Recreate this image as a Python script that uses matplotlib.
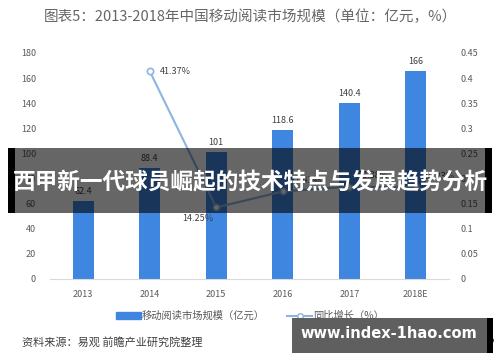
import matplotlib
matplotlib.use("Agg")
import matplotlib.pyplot as plt
from matplotlib.patches import Rectangle
from matplotlib.lines import Line2D
from matplotlib.patches import Patch

plt.rcParams['font.family'] = ['Noto Sans CJK SC', 'DejaVu Sans']

categories = ["2013", "2014", "2015", "2016", "2017", "2018E"]
market_size = [62.4, 88.4, 101, 118.6, 140.4, 166]
growth_x = ["2014", "2015", "2016", "2017", "2018E"]
growth = [0.4137, 0.1425, 0.1743, 0.1838, 0.1823]
growth_labels = ["41.37%", "14.25%", "17.43%", "18.38%", "18.23%"]
left_ticks = [0, 20, 40, 60, 80, 100, 120, 140, 160, 180]
right_ticks = [0, 0.05, 0.1, 0.15, 0.2, 0.25, 0.3, 0.35, 0.4, 0.45]
right_tick_labels = ["0", "0.05", "0.1", "0.15", "0.2", "0.25", "0.3", "0.35", "0.4", "0.45"]

W, H = 500, 362
fig = plt.figure(figsize=(5, 3.62), dpi=100)
fig.patch.set_facecolor("white")

ax = fig.add_axes([50/W, 1-279/H, 399/W, 226/H])
x = list(range(len(categories)))
bar_color = "#3F86E0"
ax.bar(x, market_size, width=0.32, color=bar_color, zorder=2)
for xi, v in zip(x, market_size):
    ax.text(xi, v + 4, f"{v:g}", ha="center", va="bottom", fontsize=6.5, color="#404040")
ax.set_xlim(-0.5, len(categories) - 0.5)
ax.set_ylim(0, 180)
ax.set_yticks(left_ticks)
ax.set_yticklabels([str(t) for t in left_ticks], fontsize=6.5, color="#595959")
ax.set_xticks(x)
ax.set_xticklabels(categories, fontsize=6.5, color="#595959")
ax.tick_params(length=0, pad=8)
ax.tick_params(axis="y", pad=10)
for s in ["top", "right", "left"]:
    ax.spines[s].set_visible(False)
ax.spines["bottom"].set_color("#D9D9D9")

ax2 = ax.twinx()
gx = [categories.index(c) for c in growth_x]
line_color = "#8DB4E2"
ax2.plot(gx, growth, color=line_color, lw=1.5, marker="o", ms=4.5,
         mfc="white", mec=line_color, mew=1.2, zorder=3)
ax2.set_ylim(0, 0.45)
ax2.set_yticks(right_ticks)
ax2.set_yticklabels(right_tick_labels, fontsize=6.5, color="#595959")
ax2.tick_params(length=0, pad=8)
for s in ["top", "right", "left", "bottom"]:
    ax2.spines[s].set_visible(False)
offsets = [(0.15, 0.0, "left"), (-0.05, -0.022, "right"), (0.12, 0.022, "left"),
           (0.12, 0.022, "left"), (0.12, 0.022, "left")]
for xi, v, lab, (dx, dy, ha) in zip(gx, growth, growth_labels, offsets):
    ax2.text(xi + dx, v + dy, lab, ha=ha, va="center", fontsize=6.5, color="#404040")

# Title
fig.text(250/W, 1-17/H, "图表5：2013-2018年中国移动阅读市场规模（单位：亿元，%）",
         ha="center", va="center", fontsize=10.5, color="#666666")

# Legend
handles = [Patch(color=bar_color, label="移动阅读市场规模（亿元）"),
           Line2D([0], [0], color=line_color, lw=1.5, marker="o", ms=4, mfc="white",
                  mec=line_color, label="同比增长（%）")]
fig.legend(handles=handles, loc="center", bbox_to_anchor=(250/W, 1-316/H), ncol=2,
           frameon=False, fontsize=7.4, handlelength=2.4, handleheight=0.6,
           columnspacing=2.2, handletextpad=0.1, labelcolor="#595959")

# Source
fig.text(22/W, 1-342/H, "资料来源：易观 前瞻产业研究院整理", ha="left", va="center",
         fontsize=8, color="#404040", style="italic")
fig.text(495/W, 1-342/H, "@前瞻经济学人APP", ha="right", va="center",
         fontsize=7.5, color="#404040")

# Overlay banner
fig.patches.append(Rectangle((8/W, 1-213/H), 484/W, 65/H, transform=fig.transFigure,
                             facecolor="black", alpha=0.6, zorder=10))
fig.patches.append(Rectangle((8/W, 1-213/H), 7/W, 65/H, transform=fig.transFigure,
                             facecolor="black", alpha=1.0, zorder=10))
fig.patches.append(Rectangle((485/W, 1-213/H), 7/W, 65/H, transform=fig.transFigure,
                             facecolor="black", alpha=1.0, zorder=10))
fig.text(250/W, 1-183/H, "西甲新一代球员崛起的技术特点与发展趋势分析", ha="center",
         va="center", fontsize=16.3, color="white", fontweight="bold", zorder=11)

# URL box
fig.patches.append(Rectangle((292/W, 1-353/H), 195/W, 35/H, transform=fig.transFigure,
                             facecolor="#5F5F5F", alpha=1.0, zorder=10))
fig.patches.append(Rectangle((487/W, 1-353/H), 6/W, 35/H, transform=fig.transFigure,
                             facecolor="black", alpha=1.0, zorder=10))
fig.text(389/W, 1-333/H, "www.index-1hao.com", ha="center", va="center",
         fontsize=10.5, color="white", fontweight="bold", zorder=11, family="DejaVu Sans")

fig.savefig("out.png", dpi=100)
